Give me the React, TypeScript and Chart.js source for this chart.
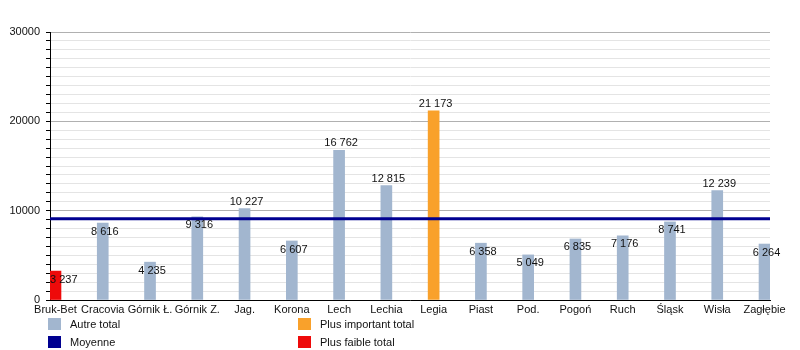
import React, { useEffect, useRef } from 'react';
import { Chart, registerables } from 'chart.js';

Chart.register(...registerables);

const CLUBS = ['Bruk-Bet', 'Cracovia', 'Górnik Ł.', 'Górnik Z.', 'Jag.', 'Korona', 'Lech', 'Lechia', 'Legia', 'Piast', 'Pod.', 'Pogoń', 'Ruch', 'Śląsk', 'Wisła', 'Zagłębie'];
const ATTENDANCE = [3237, 8616, 4235, 9316, 10227, 6607, 16762, 12815, 21173, 6358, 5049, 6835, 7176, 8741, 12239, 6264];
const AVERAGE = 9103;
const Y_MAX = 30000;
const Y_LABELS = [0, 10000, 20000, 30000];
const LEGEND_ITEMS = ['Autre total', 'Moyenne', 'Plus important total', 'Plus faible total'];

const C_OTHER = '#a2b6cf';
const C_MAX = '#f9a12b';
const C_MIN = '#ee0a0a';
const C_AVG = '#000090';
const FONT = '"Liberation Sans", Arial, sans-serif';

const X_MIN = -0.116;
const X_MAX = CLUBS.length - 1 + 0.116;

const fmt = (v: number) => {
  const s = String(v);
  return s.length > 3 ? s.slice(0, s.length - 3) + ' ' + s.slice(s.length - 3) : s;
};

const maxV = Math.max(...ATTENDANCE);
const minV = Math.min(...ATTENDANCE);
const barColors = ATTENDANCE.map((v) => (v === maxV ? C_MAX : v === minV ? C_MIN : C_OTHER));

const valueLabels = {
  id: 'valueLabels',
  afterDatasetsDraw(chart: any) {
    const meta = chart.getDatasetMeta(1);
    const ctx = chart.ctx;
    ctx.save();
    ctx.font = `11px ${FONT}`;
    ctx.fillStyle = '#111';
    ctx.textAlign = 'center';
    ctx.textBaseline = 'middle';
    meta.data.forEach((el: any, i: number) => {
      const v = ATTENDANCE[i];
      const txt = fmt(v);
      const w = ctx.measureText(txt).width;
      let x = el.x + 2;
      x = Math.max(x, chart.chartArea.left + w / 2);
      const y = v < 10000 ? el.y + 8.5 : el.y - 7;
      ctx.fillText(txt, x, y);
    });
    ctx.restore();
  },
};

const legendPlugin = {
  id: 'customLegend',
  afterDraw(chart: any) {
    const ctx = chart.ctx;
    ctx.save();
    ctx.font = `11px ${FONT}`;
    ctx.textBaseline = 'middle';
    ctx.textAlign = 'left';
    const items = [
      { label: LEGEND_ITEMS[0], color: C_OTHER, x: 48, y: 318 },
      { label: LEGEND_ITEMS[1], color: C_AVG, x: 48, y: 336 },
      { label: LEGEND_ITEMS[2], color: C_MAX, x: 298, y: 318 },
      { label: LEGEND_ITEMS[3], color: C_MIN, x: 298, y: 336 },
    ];
    items.forEach((it) => {
      ctx.fillStyle = it.color;
      ctx.fillRect(it.x, it.y, 13, 12);
      ctx.fillStyle = '#111';
      ctx.fillText(it.label, it.x + 22, it.y + 6.5);
    });
    ctx.restore();
  },
};

export default function App() {
  const ref = useRef<HTMLCanvasElement>(null);
  useEffect(() => {
    if (!ref.current) return;
    Chart.defaults.font.family = FONT;
    const chart = new Chart(ref.current, {
      type: 'bar',
      data: {
        datasets: [
          {
            type: 'line' as any,
            label: LEGEND_ITEMS[1],
            data: [
              { x: X_MIN, y: AVERAGE },
              { x: X_MAX, y: AVERAGE },
            ],
            borderColor: C_AVG,
            borderWidth: 3,
            pointRadius: 0,
            order: 0,
          } as any,
          {
            type: 'bar',
            label: LEGEND_ITEMS[0],
            data: ATTENDANCE.map((v, i) => ({ x: i, y: v })),
            backgroundColor: barColors,
            barThickness: 11,
            order: 1,
          } as any,
        ],
      },
      options: {
        responsive: false,
        animation: false,
        layout: { padding: { top: 32, right: 30, left: 0, bottom: 0 } },
        plugins: { legend: { display: false }, tooltip: { enabled: false } },
        scales: {
          x: {
            type: 'linear',
            offset: false,
            min: X_MIN,
            max: X_MAX,
            afterBuildTicks: (s: any) => {
              s.ticks = CLUBS.map((_, i) => ({ value: i }));
            },
            afterFit: (s: any) => {
              s.height = 50;
            },
            ticks: {
              autoSkip: false,
              maxRotation: 0,
              padding: 3,
              color: '#111',
              font: { size: 11 },
              callback: (v: any) => CLUBS[v as number] ?? '',
            },
            grid: { offset: false, drawOnChartArea: false, drawTicks: false },
            border: { color: '#000', width: 1 },
          },
          y: {
            min: 0,
            max: Y_MAX,
            afterFit: (s: any) => {
              s.width = 50;
            },
            ticks: {
              stepSize: 1000,
              autoSkip: false,
              padding: 6,
              color: '#111',
              font: { size: 11 },
              callback: (v: any) => (Y_LABELS.includes(v as number) ? String(v) : ''),
            },
            grid: {
              color: (c: any) => (c.tick && c.tick.value % 10000 === 0 ? '#b0b0b0' : '#e4e4e4'),
              tickColor: '#000',
              tickLength: 4,
            },
            border: { color: '#000', width: 1 },
          },
        },
      },
      plugins: [valueLabels, legendPlugin],
    });
    return () => chart.destroy();
  }, []);
  return (
    <div style={{ position: 'absolute', left: 0, top: 0, width: 800, height: 350, background: '#fff' }}>
      <canvas ref={ref} width={800} height={350} />
    </div>
  );
}
